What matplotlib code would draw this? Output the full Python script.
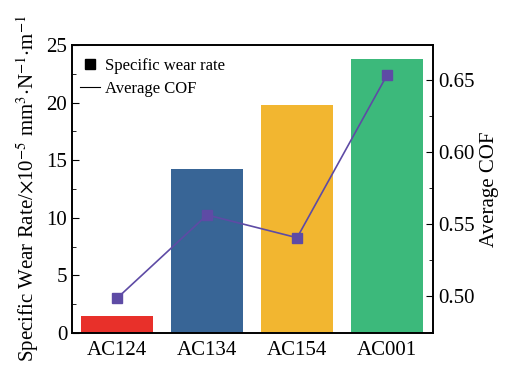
import matplotlib.pyplot as plt
from matplotlib.lines import Line2D
from matplotlib.ticker import MultipleLocator

plt.rcParams['font.family'] = ['Liberation Serif', 'DejaVu Serif']
plt.rcParams['mathtext.fontset'] = 'stix'

samples = ['AC124', 'AC134', 'AC154', 'AC001']
wear_rate = [1.45, 14.2, 19.8, 23.75]
avg_cof = [0.4986, 0.5564, 0.5406, 0.6535]
bar_colors = ['#E8302A', '#386596', '#F2B630', '#3CB97B']

fig = plt.figure(figsize=(5.07, 3.72), dpi=100)
ax = fig.add_axes([72 / 507, 1 - 333 / 372, 361 / 507, 288 / 372])

x = list(range(len(samples)))
ax.bar(x, wear_rate, width=0.8, color=bar_colors)
ax.set_xlim(-0.5, 3.51)
ax.set_ylim(0, 25)
ax.set_xticks(x)
ax.set_xticklabels(samples)
ax.yaxis.set_major_locator(MultipleLocator(5))
ax.yaxis.set_minor_locator(MultipleLocator(2.5))
ax.tick_params(axis='y', which='both', direction='in', labelsize=15)
ax.tick_params(axis='y', which='major', length=5)
ax.tick_params(axis='y', which='minor', length=3)
ax.tick_params(axis='x', length=0, labelsize=15, pad=6)
ax.set_ylabel('Specific Wear Rate/$\\times$10$^{-5}$ mm$^{3}$$\\cdot$N$^{-1}$$\\cdot$m$^{-1}$',
              fontsize=15, labelpad=4)

ax2 = ax.twinx()
ax2.plot(x, avg_cof, color='#5E4BA5', linewidth=1.2, marker='s', markersize=7)
ax2.set_ylim(0.4745, 0.6743)
ax2.yaxis.set_major_locator(MultipleLocator(0.05))
ax2.yaxis.set_minor_locator(MultipleLocator(0.025))
ax2.tick_params(axis='y', which='both', direction='in', labelsize=15)
ax2.tick_params(axis='y', which='major', length=5)
ax2.tick_params(axis='y', which='minor', length=3)
ax2.set_ylabel('Average COF', fontsize=15, labelpad=4)

for a in (ax, ax2):
    for s in a.spines.values():
        s.set_linewidth(1.2)

handles = [Line2D([], [], color='black', marker='s', linestyle='none', markersize=6.5),
           Line2D([], [], color='black', linewidth=0.8)]
ax.legend(handles, ['Specific wear rate', 'Average COF'], loc='upper left',
          frameon=False, fontsize=12, handlelength=1.2, handletextpad=0.3,
          borderaxespad=0.2, borderpad=0.3, labelspacing=0.45,
          bbox_to_anchor=(0.0, 0.985))

fig.savefig('out.png', dpi=100)
